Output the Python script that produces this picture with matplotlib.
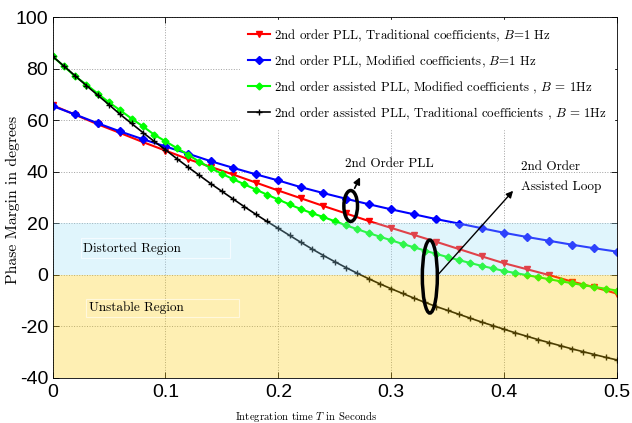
import matplotlib
matplotlib.use("Agg")
import matplotlib.pyplot as plt
from matplotlib.patches import Ellipse, Rectangle
import numpy as np

plt.rcParams["mathtext.fontset"] = "cm"

# sampled every 0.02 s (PLL curves) and every 0.01 s (assisted curves)
t_pll = np.round(np.arange(0, 0.501, 0.02), 2)
t_apll = np.round(np.arange(0, 0.501, 0.01), 2)

pll_trad = [65.8, 62.1, 58.4, 55.0, 51.5, 48.2, 44.9, 41.9, 38.9, 35.8,
            32.7, 29.7, 26.7, 23.8, 20.9, 18.2, 15.5, 12.8, 10.0, 7.2,
            4.5, 2.2, -0.1, -2.6, -4.8, -7.3]
pll_mod = [65.5, 62.2, 58.8, 55.6, 52.6, 49.8, 47.0, 44.1, 41.5, 39.0,
           36.6, 34.0, 31.7, 29.5, 27.4, 25.4, 23.5, 21.6, 19.9, 18.1,
           16.3, 14.7, 13.2, 11.7, 10.3, 9.0]
apll_mod = [84.8, 80.9, 77.0, 73.8, 70.3, 66.9, 63.8, 60.6, 57.6, 54.4,
            51.8, 49.2, 46.6, 43.9, 41.4, 39.2, 37.1, 35.1, 33.1, 31.1,
            29.2, 27.3, 25.5, 23.9, 22.4, 20.8, 19.2, 17.7, 16.2, 14.8,
            13.4, 12.0, 10.7, 9.4, 8.1, 6.9, 5.7, 4.6, 3.5, 2.5,
            1.5, 0.7, -0.1, -0.9, -1.7, -2.5, -3.2, -4.0, -4.7, -5.4, -6.1]
apll_trad = [84.8, 81.0, 77.2, 73.4, 69.7, 66.0, 62.2, 58.7, 55.2, 51.8,
             48.5, 45.1, 41.8, 38.6, 35.4, 32.4, 29.4, 26.4, 23.5, 20.7,
             18.0, 15.3, 12.6, 10.0, 7.5, 5.1, 2.8, 0.6, -1.5, -3.5,
             -5.4, -7.2, -9.0, -10.7, -12.3, -13.8, -15.3, -16.8, -18.3, -19.7,
             -21.1, -22.5, -23.8, -25.1, -26.3, -27.5, -28.7, -29.8, -30.9, -32.0, -33.0]

labels = [
    "2nd order PLL, Traditional coefficients, $B$=1 Hz",
    "2nd order PLL, Modified coefficients, $B$=1 Hz",
    "2nd order assisted PLL, Modified coefficients , $B$ = 1Hz",
    "2nd order assisted PLL, Traditional coefficients , $B$ = 1Hz",
]
xticks = [0, 0.1, 0.2, 0.3, 0.4, 0.5]
yticks = [-40, -20, 0, 20, 40, 60, 80, 100]

SERIF = "cmr10"
TICKFONT = "Liberation Sans"

fig = plt.figure(figsize=(6.32, 4.23), dpi=100)
ax = fig.add_axes([0.0831, 0.1064, 0.8932, 0.8534])

ax.plot(t_pll, pll_trad, color="#ff0000", lw=1.5, marker="v", ms=5, label=labels[0], zorder=3)
ax.plot(t_pll, pll_mod, color="#0000ff", lw=1.5, marker="D", ms=4, label=labels[1], zorder=3)
ax.plot(t_apll, apll_mod, color="#00ff00", lw=1.5, marker="D", ms=3.5, label=labels[2], zorder=3)
ax.plot(t_apll, apll_trad, color="black", lw=1.2, marker="+", ms=5, mew=1, label=labels[3], zorder=4)

# shaded stability regions drawn over the curves
ax.axhspan(0, 20, color="#9bdef8", alpha=0.3, lw=0, zorder=5)
ax.axhspan(-40, 0, color="#fccd05", alpha=0.3, lw=0, zorder=5)

ax.add_patch(Rectangle((0.025, 6.6), 0.132, 7.8, fill=False, ec="#f4fbff", lw=0.8, zorder=6))
ax.add_patch(Rectangle((0.030, -16.5), 0.135, 7.2, fill=False, ec="#fff8dc", lw=0.8, zorder=6))
ax.text(0.027, 10.0, "Distorted Region", family=SERIF, fontsize=9.5, va="center", zorder=7)
ax.text(0.0325, -12.9, "Unstable Region", family=SERIF, fontsize=9.5, va="center", zorder=7)

# annotations
ax.add_patch(Ellipse((0.2641, 26.7), 0.0121, 12.0, fill=False, ec="black", lw=2.5, zorder=7))
ax.annotate("", xy=(0.2735, 38.8), xytext=(0.2665, 32.6),
            arrowprops=dict(arrowstyle="-|>", color="black", lw=1.2, mutation_scale=10), zorder=7)
ax.text(0.2985, 43.1, "2nd Order PLL", family=SERIF, fontsize=9.5, ha="center", va="center", zorder=7)

ax.add_patch(Ellipse((0.3342, -0.66), 0.0133, 28.3, fill=False, ec="black", lw=2.5, zorder=7))
ax.annotate("", xy=(0.4096, 33.4), xytext=(0.3405, -0.4),
            arrowprops=dict(arrowstyle="-|>", color="black", lw=1.0, mutation_scale=10), zorder=7)
ax.text(0.4147, 38.0, "2nd Order\nAssisted Loop", family=SERIF, fontsize=9.5,
        ha="left", va="center", linespacing=1.75, zorder=7)

ax.set_xlim(0, 0.5)
ax.set_ylim(-40, 100)
ax.set_xticks(xticks)
ax.set_xticklabels([f"{v:g}" for v in xticks], family=TICKFONT, fontsize=14)
ax.set_yticks(yticks)
ax.set_yticklabels([str(v) for v in yticks], family=TICKFONT, fontsize=14)
ax.tick_params(direction="in", top=True, right=True, length=4, width=0.6, pad=3)
ax.tick_params(axis="x", pad=4)
ax.grid(True, linestyle=":", color="#a0a0a0", lw=0.7)
ax.set_axisbelow(True)
for s in ax.spines.values():
    s.set_linewidth(0.6)
    s.set_zorder(8)

ax.set_xlabel("Integration time $T$ in Seconds", family=SERIF, fontsize=7.8)
ax.xaxis.set_label_coords(0.45, -0.085)
ax.set_ylabel("Phase Margin in degrees", family=SERIF, fontsize=11.3)
ax.yaxis.set_label_coords(-0.057, 0.493)

leg = ax.legend(loc="upper right", bbox_to_anchor=(1.0, 1.0), prop={"family": SERIF, "size": 9.3},
                frameon=True, fancybox=False, edgecolor="white", framealpha=1,
                handlelength=1.7, handletextpad=0.3, labelspacing=0.76, borderpad=0.6,
                borderaxespad=0.2)
leg.set_zorder(10)

fig.savefig("out.png", dpi=100)
